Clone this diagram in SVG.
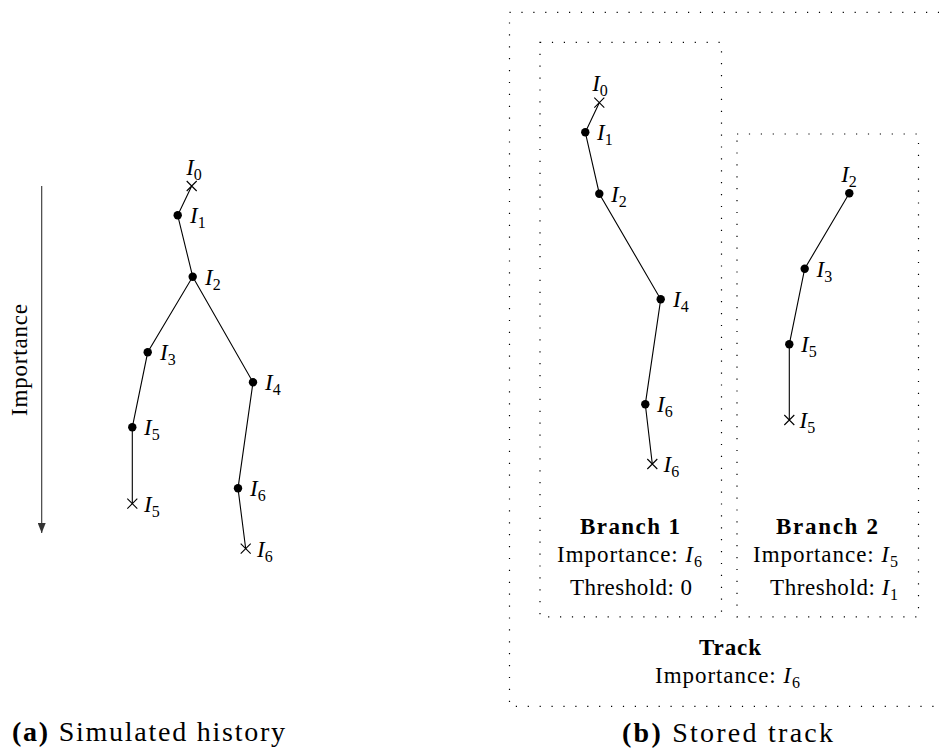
<svg xmlns="http://www.w3.org/2000/svg" width="939" height="755" viewBox="0 0 939 755">
<style>
.t{font-family:"Liberation Serif","Times New Roman",serif;font-size:23px;fill:#000}
.b{font-weight:bold}
.i{font-style:italic}
.s{font-size:16px}
.l{font-family:"Liberation Serif","Times New Roman",serif;font-size:23px;fill:#000}
.cap{font-family:"Liberation Serif","Times New Roman",serif;font-size:28px;fill:#000}
.e{stroke:#000;stroke-width:1.1;fill:none}
.x{stroke:#000;stroke-width:1.1;fill:none}
.d{fill:#000}
.dot{fill:none;stroke:#000;stroke-width:1.2;stroke-dasharray:1.2 10.7}
</style>
<defs>
<marker id="ah" viewBox="0 0 10 8" refX="10" refY="4" markerWidth="10" markerHeight="8" markerUnits="userSpaceOnUse" orient="auto">
<path d="M0,0 L10,4 L0,8 Z" fill="#333"/>
</marker>
<path id="cr" d="M-5,-5 L5,5 M-5,5 L5,-5"/>
</defs>

<!-- Left panel: axis -->
<g id="axis">
<line x1="41.7" y1="186" x2="41.7" y2="533" stroke="#333" stroke-width="1.1" marker-end="url(#ah)"/>
<text class="t" transform="translate(27,360) rotate(-90)" text-anchor="middle" textLength="112" lengthAdjust="spacing">Importance</text>
</g>

<!-- Connectors -->
<g id="connectors" class="e">
<polyline points="191.7,186 177.7,215.3 192.7,276.7 147.7,352.3 132.3,427.3 132.3,503.7"/>
<polyline points="192.7,276.7 253,382.3 238,488.3 245.7,548.7"/>
<polyline points="599.3,102.7 585.3,132.3 599.3,193.7 660.7,299.3 645.3,404.3 652.3,464"/>
<polyline points="849.3,193.3 804.7,268.7 789.3,344.3 789.3,420"/>
</g>

<!-- Left panel nodes -->
<g id="a-I0"><use href="#cr" class="x" x="191.7" y="186"/><text class="l" x="194" y="175" text-anchor="middle"><tspan class="i">I</tspan><tspan class="s" dy="5">0</tspan></text></g>
<g id="a-I1"><circle class="d" cx="177.7" cy="215.3" r="4.2"/><text class="l" x="190" y="223"><tspan class="i">I</tspan><tspan class="s" dy="5">1</tspan></text></g>
<g id="a-I2"><circle class="d" cx="192.7" cy="276.7" r="4.2"/><text class="l" x="205" y="284.5"><tspan class="i">I</tspan><tspan class="s" dy="5">2</tspan></text></g>
<g id="a-I3"><circle class="d" cx="147.7" cy="352.3" r="4.2"/><text class="l" x="160" y="360"><tspan class="i">I</tspan><tspan class="s" dy="5">3</tspan></text></g>
<g id="a-I4"><circle class="d" cx="253" cy="382.3" r="4.2"/><text class="l" x="265" y="390"><tspan class="i">I</tspan><tspan class="s" dy="5">4</tspan></text></g>
<g id="a-I5"><circle class="d" cx="132.3" cy="427.3" r="4.2"/><text class="l" x="144" y="435"><tspan class="i">I</tspan><tspan class="s" dy="5">5</tspan></text></g>
<g id="a-I5end"><use href="#cr" class="x" x="132.3" y="503.7"/><text class="l" x="144" y="511.5"><tspan class="i">I</tspan><tspan class="s" dy="5">5</tspan></text></g>
<g id="a-I6"><circle class="d" cx="238" cy="488.3" r="4.2"/><text class="l" x="250" y="496"><tspan class="i">I</tspan><tspan class="s" dy="5">6</tspan></text></g>
<g id="a-I6end"><use href="#cr" class="x" x="245.7" y="548.7"/><text class="l" x="257" y="556.5"><tspan class="i">I</tspan><tspan class="s" dy="5">6</tspan></text></g>

<!-- Right panel: boxes -->
<g id="track">
<rect class="dot" x="509.5" y="12.3" width="460" height="694"/>
<text class="t b" x="730" y="655" text-anchor="middle" textLength="62" lengthAdjust="spacing">Track</text>
<text class="t" x="727.5" y="683.3" text-anchor="middle" textLength="145" lengthAdjust="spacing">Importance: <tspan class="i">I</tspan><tspan class="s" dy="5">6</tspan></text>
</g>
<g id="branch1">
<rect class="dot" x="540" y="42.3" width="181.5" height="574.5"/>
<text class="t b" x="630" y="534" text-anchor="middle" textLength="100" lengthAdjust="spacing">Branch 1</text>
<text class="t" x="629.5" y="561.7" text-anchor="middle" textLength="145" lengthAdjust="spacing">Importance: <tspan class="i">I</tspan><tspan class="s" dy="5">6</tspan></text>
<text class="t" x="631" y="594.5" text-anchor="middle" textLength="122" lengthAdjust="spacing">Threshold: 0</text>
</g>
<g id="branch2">
<rect class="dot" x="737" y="134" width="181.5" height="482.8"/>
<text class="t b" x="827" y="534" text-anchor="middle" textLength="102" lengthAdjust="spacing">Branch 2</text>
<text class="t" x="753" y="561.7" textLength="145" lengthAdjust="spacing">Importance: <tspan class="i">I</tspan><tspan class="s" dy="5">5</tspan></text>
<text class="t" x="770" y="594.5" textLength="128" lengthAdjust="spacing">Threshold: <tspan class="i">I</tspan><tspan class="s" dy="5">1</tspan></text>
</g>

<!-- Branch 1 nodes -->
<g id="b1-I0"><use href="#cr" class="x" x="599.3" y="102.7"/><text class="l" x="600" y="91" text-anchor="middle"><tspan class="i">I</tspan><tspan class="s" dy="5">0</tspan></text></g>
<g id="b1-I1"><circle class="d" cx="585.3" cy="132.3" r="4.2"/><text class="l" x="597" y="140"><tspan class="i">I</tspan><tspan class="s" dy="5">1</tspan></text></g>
<g id="b1-I2"><circle class="d" cx="599.3" cy="193.7" r="4.2"/><text class="l" x="611" y="201.5"><tspan class="i">I</tspan><tspan class="s" dy="5">2</tspan></text></g>
<g id="b1-I4"><circle class="d" cx="660.7" cy="299.3" r="4.2"/><text class="l" x="673" y="307"><tspan class="i">I</tspan><tspan class="s" dy="5">4</tspan></text></g>
<g id="b1-I6"><circle class="d" cx="645.3" cy="404.3" r="4.2"/><text class="l" x="657" y="412"><tspan class="i">I</tspan><tspan class="s" dy="5">6</tspan></text></g>
<g id="b1-I6end"><use href="#cr" class="x" x="652.3" y="464"/><text class="l" x="663.5" y="472"><tspan class="i">I</tspan><tspan class="s" dy="5">6</tspan></text></g>

<!-- Branch 2 nodes -->
<g id="b2-I2"><circle class="d" cx="849.3" cy="193.3" r="4.2"/><text class="l" x="849" y="181.5" text-anchor="middle"><tspan class="i">I</tspan><tspan class="s" dy="5">2</tspan></text></g>
<g id="b2-I3"><circle class="d" cx="804.7" cy="268.7" r="4.2"/><text class="l" x="816.5" y="276.5"><tspan class="i">I</tspan><tspan class="s" dy="5">3</tspan></text></g>
<g id="b2-I5"><circle class="d" cx="789.3" cy="344.3" r="4.2"/><text class="l" x="801" y="352"><tspan class="i">I</tspan><tspan class="s" dy="5">5</tspan></text></g>
<g id="b2-I5end"><use href="#cr" class="x" x="789.3" y="420"/><text class="l" x="799.5" y="428"><tspan class="i">I</tspan><tspan class="s" dy="5">5</tspan></text></g>

<!-- Captions -->
<text class="cap" x="12" y="741" textLength="273" lengthAdjust="spacing"><tspan class="b">(a)</tspan> Simulated history</text>
<text class="cap" x="622" y="741.5" textLength="211" lengthAdjust="spacing"><tspan class="b">(b)</tspan> Stored track</text>
</svg>
